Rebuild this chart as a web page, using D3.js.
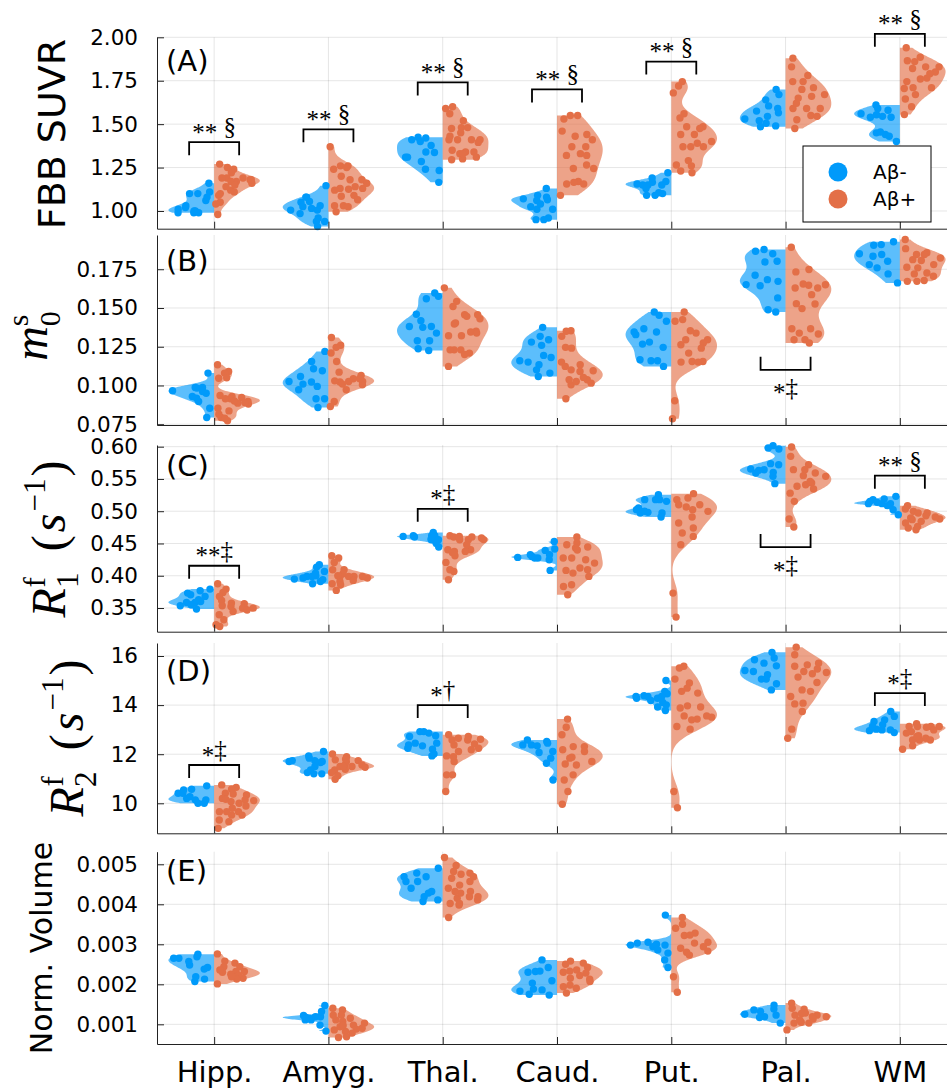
<!DOCTYPE html>
<html>
<head>
<meta charset="utf-8">
<script src="https://cdn.jsdelivr.net/npm/d3@7"></script>
<style>
  body { margin: 0; background: #fff; }
  svg text { font-family: "DejaVu Sans", sans-serif; fill: #000; }
</style>
</head>
<body>
<svg id="chart" width="947" height="1088"></svg>
<script>
"use strict";

// ---- data ----
const regions = ["Hipp.", "Amyg.", "Thal.", "Caud.", "Put.", "Pal.", "WM"];

// (A) FBB SUVR
const suvrNeg = [
  [1.00,1.10,1.10,1.06,1.01,0.99,1.11,1.02,0.99,0.99,1.16,1.08,1.03,1.00],
  [1.146,1.08,1.055,1.03,1.05,1.015,1.005,1.025,1.005,0.985,0.94,0.94,0.91,0.96,1.08],
  [1.337,1.425,1.34,1.31,1.285,1.377,1.41,1.42,1.233,1.24,1.165,1.31,1.40],
  [1.13,1.09,1.08,1.07,1.06,1.01,1.01,0.96,0.95,0.95,1.065,1.025,1.04],
  [1.155,1.165,1.17,1.15,1.22,1.19,1.15,1.15,1.13,1.105,1.09,1.09,1.10],
  [1.70,1.67,1.64,1.605,1.59,1.575,1.545,1.53,1.52,1.49,1.485,1.505,1.565],
  [1.554,1.54,1.54,1.545,1.61,1.59,1.58,1.45,1.44,1.40,1.455,1.43,1.56]
];
const suvrPos = [
  [1.27,1.24,1.22,1.19,1.18,1.17,1.19,1.19,1.17,1.16,1.12,1.10,1.11,1.05,1.04,0.98,1.14,1.18,1.15,1.09,1.25],
  [1.37,1.26,1.26,1.24,1.25,1.20,1.18,1.18,1.13,1.13,1.125,1.12,1.09,1.085,1.065,1.03,1.03,1.025,0.995,1.16,1.14],
  [1.59,1.60,1.56,1.52,1.48,1.475,1.48,1.45,1.41,1.41,1.41,1.41,1.34,1.35,1.34,1.33,1.31,1.30,1.295,1.395,1.33,1.43],
  [1.55,1.55,1.53,1.44,1.43,1.46,1.37,1.37,1.41,1.33,1.32,1.265,1.245,1.245,1.17,1.155,1.155,1.165,1.09,1.32],
  [1.745,1.72,1.68,1.56,1.535,1.485,1.44,1.44,1.475,1.485,1.40,1.39,1.37,1.37,1.37,1.265,1.26,1.23,1.22,1.29],
  [1.88,1.83,1.78,1.745,1.745,1.71,1.70,1.67,1.66,1.65,1.59,1.59,1.59,1.55,1.525,1.545,1.475,1.62],
  [1.94,1.865,1.885,1.86,1.83,1.83,1.82,1.80,1.76,1.745,1.79,1.71,1.71,1.67,1.645,1.60,1.555,1.705,1.765]
];

// (B) m0^s
const m0Neg = [
  [0.0983,0.0966,0.0929,0.0987,0.108,0.0987,0.095,0.0897,0.0853,0.0793,0.0918,0.0961],
  [0.122,0.1155,0.1108,0.1095,0.1058,0.1022,0.1026,0.1009,0.0994,0.0972,0.0914,0.0914,0.0858],
  [0.1575,0.156,0.1597,0.146,0.1418,0.1381,0.1381,0.1375,0.1338,0.1289,0.1289,0.1237,0.1226],
  [0.1375,0.1317,0.1295,0.128,0.1259,0.1181,0.1151,0.1194,0.116,0.1101,0.108,0.1058,0.1134],
  [0.1474,0.1453,0.1414,0.1366,0.1345,0.1345,0.128,0.1246,0.1267,0.116,0.1166,0.116,0.1123,0.1328],
  [0.1877,0.185,0.1866,0.1797,0.1802,0.1711,0.1683,0.1651,0.1644,0.1565,0.1489,0.1474,0.1672],
  [0.1909,0.1927,0.1905,0.1845,0.185,0.1834,0.1802,0.178,0.172,0.1662,0.1759]
];
const m0Pos = [
  [0.1134,0.109,0.108,0.1047,0.105,0.0929,0.0935,0.0922,0.0914,0.088,0.0886,0.0914,0.0897,0.090,0.0853,0.0836,0.0793,0.0772,0.0789,0.0815,0.089],
  [0.131,0.126,0.1246,0.121,0.1155,0.1086,0.1065,0.1043,0.1022,0.1026,0.1026,0.103,0.0972,0.1009,0.1004,0.0897,0.0864,0.1043],
  [0.163,0.1543,0.151,0.1431,0.1457,0.1397,0.135,0.1321,0.1321,0.1345,0.123,0.1209,0.123,0.123,0.12,0.1123,0.1457,0.1446,0.1403,0.1338],
  [0.1353,0.135,0.1317,0.1241,0.1246,0.1151,0.1134,0.1101,0.1095,0.109,0.1123,0.1037,0.1004,0.1015,0.1052,0.1037,0.0914,0.1026],
  [0.1474,0.1425,0.1414,0.1338,0.1295,0.1295,0.1353,0.1263,0.1274,0.1209,0.1155,0.1155,0.1151,0.1151,0.0901,0.0785,0.1241],
  [0.1892,0.1733,0.1748,0.1647,0.1629,0.1629,0.1655,0.165,0.1586,0.1528,0.1526,0.1496,0.1366,0.1366,0.1338,0.1332,0.1295,0.1295,0.1274],
  [0.1942,0.1883,0.1856,0.1845,0.1823,0.1845,0.1812,0.178,0.1806,0.1763,0.1726,0.172,0.1705,0.1672,0.1672,0.1677,0.1759]
];

// (C) R1^f (1/s)
const r1Neg = [
  [0.3586,0.3535,0.3586,0.3602,0.3731,0.3767,0.3793,0.3705,0.3628,0.3483,0.355,0.368],
  [0.40,0.3948,0.399,0.4067,0.417,0.399,0.3876,0.3964,0.3912,0.4134,0.4041,0.394],
  [0.462,0.462,0.4558,0.461,0.4507,0.462,0.4672,0.4445,0.4558,0.46,0.457],
  [0.4284,0.43,0.4248,0.4326,0.4274,0.4414,0.4393,0.4532,0.4083,0.4274,0.4326],
  [0.5179,0.5179,0.5153,0.5256,0.5179,0.5024,0.4982,0.4972,0.4972,0.491,0.505,0.50],
  [0.6016,0.5964,0.598,0.5737,0.5721,0.5592,0.554,0.5427,0.5633,0.5602,0.5654,0.5643],
  [0.5137,0.5117,0.5117,0.5117,0.5179,0.519,0.523,0.5153,0.5086,0.4946,0.5024]
];
const r1Pos = [
  [0.3876,0.3793,0.3741,0.3617,0.3566,0.3576,0.3535,0.3498,0.3524,0.3498,0.3447,0.3395,0.3318,0.3214,0.324,0.3498,0.368,0.347],
  [0.431,0.4274,0.4207,0.4093,0.4093,0.4031,0.3964,0.399,0.399,0.399,0.399,0.3876,0.3928,0.391,0.3773,0.386,0.40],
  [0.462,0.46,0.4558,0.4584,0.4558,0.46,0.4403,0.431,0.4403,0.4377,0.4377,0.4067,0.4093,0.4207,0.3938,0.461,0.456,0.448,0.436],
  [0.46,0.4507,0.448,0.4445,0.4429,0.4274,0.4248,0.4274,0.4196,0.4119,0.4083,0.4093,0.4041,0.399,0.386,0.3834,0.3705,0.44],
  [0.5272,0.5205,0.5179,0.51,0.5065,0.4998,0.491,0.4817,0.474,0.4662,0.461,0.4481,0.3731,0.3359,0.5024,0.51],
  [0.5996,0.585,0.572,0.5644,0.5644,0.5592,0.5551,0.554,0.5437,0.5386,0.5344,0.541,0.528,0.5153,0.4879,0.4755,0.546],
  [0.5086,0.5034,0.4972,0.4998,0.4879,0.493,0.4869,0.491,0.4972,0.4817,0.4765,0.474,0.4713,0.4843,0.4894]
];

// (D) R2^f (1/s)
const r2Neg = [
  [10.14,10.41,10.2,10.0,10.41,10.0,10.14,10.57,10.71,10.54,10.27],
  [11.74,11.74,11.84,11.66,11.93,12.11,11.7,11.2,11.2,11.25,11.5,11.7,11.36],
  [12.75,12.92,12.86,12.72,12.92,12.2,12.38,12.34,12.45,12.45,12.01,12.24,11.93],
  [12.58,12.38,12.52,12.38,12.34,12.11,12.07,11.84,11.63,10.95,12.45],
  [15.0,14.56,14.46,14.38,14.28,14.28,14.35,14.35,14.19,14.11,13.92,13.78,14.01,14.35],
  [16.15,15.92,15.85,15.71,15.6,15.37,15.24,15.41,15.06,14.87,14.62,15.06],
  [13.02,12.99,12.96,12.99,13.33,13.4,13.54,13.74,13.2,12.88,13.13]
];
const r2Pos = [
  [10.75,10.65,10.57,10.41,10.34,10.38,10.2,10.14,10.07,10.11,10.0,10.16,9.89,9.8,9.66,9.66,9.66,9.52,9.52,9.32,9.25,8.98],
  [12.01,11.9,11.7,11.36,10.98,11.56,11.74,11.8,11.5,11.56,11.39,11.25,11.12,11.5,11.47,11.5,11.77],
  [12.79,12.72,12.65,12.61,12.58,12.38,12.18,12.11,11.93,11.7,11.16,11.16,10.48,12.58,12.42,11.9,12.24],
  [13.43,13.1,12.79,12.31,12.31,12.18,12.11,11.88,11.7,11.56,11.6,11.16,10.95,10.48,9.96,11.84],
  [15.58,15.51,15.06,14.9,14.56,14.49,14.69,13.88,13.92,13.97,13.51,13.43,13.56,13.56,13.4,13.13,13.02,10.48,9.82],
  [16.36,16.05,15.71,15.64,15.58,15.47,15.37,15.33,15.28,15.14,14.92,14.62,14.35,14.08,14.05,13.74,13.02,12.65,14.56],
  [13.24,13.13,13.13,13.13,13.13,13.1,12.92,12.99,12.75,12.86,12.65,12.58,12.58,12.58,12.2,12.34,12.72]
];

// (E) normalised volume
const volNeg = [
  [0.00269,0.00265,0.00248,0.00238,0.00265,0.00275,0.00242,0.00219,0.00213,0.00207,0.00257],
  [0.00119,0.00122,0.00117,0.00119,0.00132,0.00147,0.00098,0.00111,0.00083,0.00111,0.00115],
  [0.0049,0.00478,0.00469,0.00469,0.00457,0.00432,0.0044,0.00419,0.00411,0.00407,0.00428,0.00457],
  [0.00261,0.00232,0.00242,0.0023,0.00233,0.00209,0.00203,0.00186,0.00183,0.00188,0.00173,0.00175],
  [0.00373,0.00294,0.00298,0.00305,0.003,0.00303,0.00286,0.00278,0.00261,0.00242,0.00298],
  [0.00148,0.00138,0.00136,0.00119,0.00123,0.00117,0.00103,0.00125,0.00132],
  []
];
const volPos = [
  [0.00276,0.00253,0.00258,0.00244,0.00244,0.00232,0.0023,0.00232,0.00225,0.00215,0.00223,0.00201,0.00213,0.00219,0.00236],
  [0.0014,0.00136,0.00123,0.00123,0.00115,0.00107,0.00103,0.00098,0.00094,0.0009,0.00082,0.00086,0.00088,0.00097,0.00069,0.00067,0.00111,0.00078],
  [0.00517,0.00497,0.00482,0.00478,0.00475,0.00465,0.00457,0.00448,0.0044,0.00432,0.00415,0.00411,0.00398,0.00402,0.00367,0.00428,0.00469,0.00419,0.00432,0.00419,0.00402],
  [0.00253,0.00258,0.0025,0.00242,0.00236,0.0023,0.00228,0.00215,0.00213,0.00222,0.00194,0.0019,0.00198,0.00207,0.00178,0.00233],
  [0.00367,0.0035,0.0034,0.00328,0.00322,0.00305,0.00303,0.0029,0.00294,0.0028,0.00283,0.00273,0.00219,0.0018,0.00323],
  [0.00153,0.0014,0.00138,0.00128,0.00123,0.00123,0.00127,0.00119,0.00119,0.00103,0.00103,0.00105,0.00086,0.00113,0.00111],
  []
];

// y ticks
const suvrTicks = [1.00, 1.25, 1.50, 1.75, 2.00];
const m0Ticks = [0.075, 0.100, 0.125, 0.150, 0.175];
const r1Ticks = [0.35, 0.40, 0.45, 0.50, 0.55, 0.60];
const r2Ticks = [10, 12, 14, 16];
const volTicks = [0.001, 0.002, 0.003, 0.004, 0.005];

// significance brackets: [region index, bracket level, label, drawn below?]
const sigA = [[0,1.396,"** §",false],[1,1.47,"** §",false],[2,1.74,"** §",false],
              [3,1.70,"** §",false],[4,1.86,"** §",false],[6,2.02,"** §",false]];
const sigB = [[5,0.1101,"*‡",true]];
const sigC = [[0,0.4155,"**‡",false],[2,0.5037,"*‡",false],[5,0.4444,"*‡",true],[6,0.5551,"** §",false]];
const sigD = [[0,11.56,"*‡",false],[2,14.0,"*†",false],[6,14.49,"*‡",false]];
const sigE = [];

const groups = ["Aβ-", "Aβ+"];

// ---- layout ----
var svg = d3.select("#chart"),
    width = +svg.attr("width"),
    height = +svg.attr("height");

const blue = "#009AFA", orange = "#E36F47";
const left = 157;
const x = d3.scaleLinear().domain([0.5, 7.5]).range([left, left + 800]);
const halfW = 0.4 * (x(2) - x(1));   // violin half width at peak density

const panels = [
  {neg: suvrNeg, pos: suvrPos, top: 37.3, bottom: 228.7, domain: [0.898, 2.0], ticks: suvrTicks, fmt: ".2f", tag: "(A)", tagY: 71, sig: sigA},
  {neg: m0Neg, pos: m0Pos, top: 235, bottom: 425, domain: [0.0745, 0.1971], ticks: m0Ticks, fmt: ".3f", tag: "(B)", tagY: 271, sig: sigB},
  {neg: r1Neg, pos: r1Pos, top: 445, bottom: 631.7, domain: [0.3133, 0.6026], ticks: r1Ticks, fmt: ".2f", tag: "(C)", tagY: 476, sig: sigC},
  {neg: r2Neg, pos: r2Pos, top: 643, bottom: 833.3, domain: [8.778, 16.53], ticks: r2Ticks, fmt: "d", tag: "(D)", tagY: 681, sig: sigD},
  {neg: volNeg, pos: volPos, top: 851.7, bottom: 1044, domain: [0.000508, 0.005315], ticks: volTicks, fmt: ".3f", tag: "(E)", tagY: 881, sig: sigE}
];

// gaussian kde trimmed to the data range, normalised to peak = 1
function kdeProfile(values) {
  const v = values.slice().sort(d3.ascending);
  const n = v.length;
  const sd = d3.deviation(v);
  const iqr = d3.quantile(v, 0.75) - d3.quantile(v, 0.25);
  let bw = 0.9 * (iqr > 0 ? Math.min(sd, iqr / 1.34) : sd) * Math.pow(n, -0.2);
  const lo = v[0], hi = v[n - 1];
  const grid = d3.range(121).map(i => lo + (hi - lo) * i / 120);
  const dens = grid.map(g => d3.sum(v, d => Math.exp(-0.5 * ((g - d) / bw) ** 2)));
  const mx = d3.max(dens);
  return grid.map((g, i) => [g, dens[i] / mx]);
}

function widthAt(prof, val) {
  const lo = prof[0][0], hi = prof[prof.length - 1][0];
  const t = (val - lo) / (hi - lo) * (prof.length - 1);
  const i = Math.max(0, Math.min(prof.length - 2, Math.floor(t)));
  const f = t - i;
  return prof[i][1] * (1 - f) + prof[i + 1][1] * f;
}

// deterministic spread of the dots inside their half violin
function jitter(k) {
  return 0.12 + 0.8 * ((k * 0.6180339887 + 0.37) % 1);
}

panels.forEach(function(p, pi) {
  const y = d3.scaleLinear().domain(p.domain).range([p.bottom, p.top]);
  const g = svg.append("g").attr("class", "panel");

  // grid
  g.append("g").selectAll("line").data(p.ticks).enter().append("line")
    .attr("x1", left).attr("x2", width)
    .attr("y1", d => y(d)).attr("y2", d => y(d))
    .attr("stroke", "#000").attr("stroke-opacity", 0.1).attr("stroke-width", 1);
  g.append("g").selectAll("line").data(d3.range(1, 8)).enter().append("line")
    .attr("x1", d => x(d)).attr("x2", d => x(d))
    .attr("y1", p.top).attr("y2", p.bottom)
    .attr("stroke", "#000").attr("stroke-opacity", 0.1).attr("stroke-width", 1);

  // split violins
  const sides = [{data: p.neg, s: -1, color: blue}, {data: p.pos, s: 1, color: orange}];
  const profiles = sides.map(side => side.data.map(vals => vals.length > 1 ? kdeProfile(vals) : null));

  sides.forEach(function(side, si) {
    side.data.forEach(function(vals, ri) {
      const prof = profiles[si][ri];
      if (!prof) return;
      const cx = x(ri + 1);
      const area = d3.area()
        .x0(cx)
        .x1(d => cx + side.s * d[1] * halfW)
        .y(d => y(d[0]));
      g.append("path").datum(prof)
        .attr("d", area)
        .attr("fill", side.color)
        .attr("fill-opacity", 0.64);
    });
  });

  sides.forEach(function(side, si) {
    side.data.forEach(function(vals, ri) {
      const prof = profiles[si][ri];
      if (!prof) return;
      const cx = x(ri + 1);
      g.append("g").selectAll("circle").data(vals).enter().append("circle")
        .attr("cx", (d, k) => cx + side.s * jitter(k + ri * 3) * widthAt(prof, d) * halfW)
        .attr("cy", d => y(d))
        .attr("r", 3.7)
        .attr("fill", side.color);
    });
  });

  // axes
  const ay = g.append("g").attr("transform", "translate(" + left + ",0)")
    .call(d3.axisLeft(y).tickValues(p.ticks).tickFormat(d3.format(p.fmt))
      .tickSize(-7).tickSizeOuter(0).tickPadding(19));
  ay.attr("font-size", 21.5).attr("font-family", "DejaVu Sans");
  ay.selectAll("path, line").attr("stroke", "#222");

  const ax = g.append("g").attr("transform", "translate(0," + p.bottom + ")")
    .call(d3.axisBottom(x).tickValues(d3.range(1, 8))
      .tickFormat(pi === panels.length - 1 ? (d => regions[d - 1]) : (() => ""))
      .tickSize(-7).tickSizeOuter(0).tickPadding(17));
  ax.attr("font-size", 29).attr("font-family", "DejaVu Sans");
  ax.selectAll("path, line").attr("stroke", "#222");

  // panel tag
  g.append("text").attr("x", 166).attr("y", p.tagY)
    .style("font-size", "29px").text(p.tag);

  // significance brackets
  p.sig.forEach(function(s) {
    const cx = x(s[0] + 1), yy = y(s[1]), leg = s[3] ? -13 : 13;
    g.append("path")
      .attr("d", "M" + (cx - 25) + "," + (yy + leg) + "V" + yy + "H" + (cx + 25) + "V" + (yy + leg))
      .attr("fill", "none").attr("stroke", "#000").attr("stroke-width", 1.8);
    const t = g.append("text")
      .attr("x", cx).attr("y", s[3] ? yy + 26 : yy - 7)
      .attr("text-anchor", "middle")
      .style("font-family", "'Liberation Serif', serif").style("font-size", "25px");
    const stars = s[2].match(/^\*+/)[0];
    t.append("tspan").attr("dy", "0.22em").text(stars);
    t.append("tspan").attr("dy", "-0.22em").text(s[2].slice(stars.length));
  });
});

// ---- y labels ----
svg.append("text").attr("transform", "translate(65,134) rotate(-90)")
  .attr("text-anchor", "middle").style("font-size", "38px").text("FBB SUVR");

svg.append("text").attr("transform", "translate(52,948) rotate(-90)")
  .attr("text-anchor", "middle").style("font-size", "30px").text("Norm. Volume");

const serif = "'Liberation Serif', serif";

const mLab = svg.append("text").attr("transform", "translate(47,336) rotate(-90)")
  .attr("text-anchor", "middle").style("font-family", serif);
mLab.append("tspan").style("font-style", "italic").style("font-size", "48px").text("m");
mLab.append("tspan").style("font-size", "30px").attr("dy", 13).text("0");
mLab.append("tspan").style("font-size", "30px").attr("dx", -15).attr("dy", -32).text("s");

function rateLabel(tx, ty, sub) {
  const t = svg.append("text").attr("transform", "translate(" + tx + "," + ty + ") rotate(-90)")
    .attr("text-anchor", "middle").style("font-family", serif);
  t.append("tspan").style("font-style", "italic").style("font-size", "48px").text("R");
  t.append("tspan").style("font-size", "31px").attr("dy", 13).text(sub);
  t.append("tspan").style("font-size", "31px").attr("dx", -15).attr("dy", -33).text("f");
  t.append("tspan").style("font-size", "48px").attr("dx", 26).attr("dy", 20).text("(");
  t.append("tspan").style("font-style", "italic").style("font-size", "48px").attr("dx", 3).text("s");
  t.append("tspan").style("font-size", "31px").attr("dx", 2).attr("dy", -20).text("−1");
  t.append("tspan").style("font-size", "48px").attr("dx", 2).attr("dy", 20).text(")");
}
rateLabel(65, 539, "1");
rateLabel(83, 738, "2");

// ---- legend ----
const leg = svg.append("g");
leg.append("rect").attr("x", 803).attr("y", 146).attr("width", 128).attr("height", 76)
  .attr("fill", "#fff").attr("stroke", "#000").attr("stroke-width", 1);
leg.selectAll("circle").data(groups).enter().append("circle")
  .attr("cx", 838).attr("cy", (d, i) => 172 + i * 27).attr("r", 9.5)
  .attr("fill", (d, i) => i === 0 ? blue : orange);
leg.selectAll("text").data(groups).enter().append("text")
  .attr("x", 873).attr("y", (d, i) => 179 + i * 27)
  .style("font-size", "20px").text(d => d);
</script>
</body>
</html>
